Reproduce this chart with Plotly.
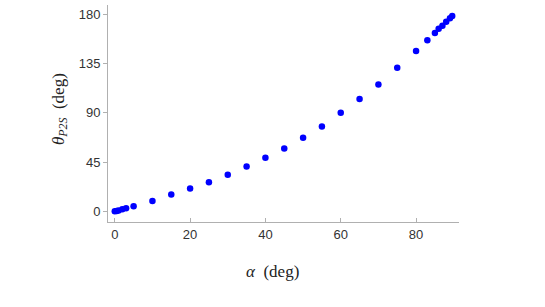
import plotly.graph_objects as go

alpha = [0, 0.5, 1, 2, 3, 5, 10, 15, 20, 25, 30, 35, 40, 45, 50, 55, 60, 65, 70, 75, 80, 83, 85, 86, 87, 88, 89, 89.6]
theta = [0, 0.3, 0.6, 1.8, 2.7, 4.6, 9.5, 15.3, 20.7, 26.5, 33.3, 40.9, 48.8, 57.4, 67.1, 77.5, 90.0, 102.5,
         115.9, 131.2, 146.4, 156.2, 162.9, 166.9, 169.6, 173.3, 176.3, 178.5]
xticks = [0, 20, 40, 60, 80]
yticks = [0, 45, 90, 135, 180]

fig = go.Figure()
fig.add_trace(go.Scatter(x=alpha, y=theta, mode="markers",
                         marker=dict(color="#0000ff", size=6.5), showlegend=False))

axis_common = dict(showgrid=False, zeroline=False, showline=True, linecolor="#b0b0b0", linewidth=1,
                   ticklen=4, tickcolor="#b0b0b0",
                   tickfont=dict(family="Liberation Sans, Arial", size=13, color="#333333"))
fig.update_xaxes(range=[-1.8, 91.4], tickvals=xticks, ticks="inside", **axis_common)
fig.update_yaxes(range=[-9.8, 188.5], tickvals=yticks, ticks="outside", **axis_common)

fig.add_annotation(text="<i>α</i>  (deg)", xref="paper", yref="paper", x=0.47, y=-0.23,
                   yanchor="middle", showarrow=False,
                   font=dict(family="Liberation Serif, Times New Roman", size=17, color="#222222"))
fig.add_annotation(text="<i>θ</i><sub><i>P2S</i></sub>  (deg)", xref="paper", yref="paper", x=-0.137, y=0.52,
                   xanchor="center", textangle=-90, showarrow=False,
                   font=dict(family="Liberation Serif, Times New Roman", size=17, color="#222222"))

fig.update_layout(width=545, height=307, margin=dict(l=108, r=86, t=5, b=85),
                  plot_bgcolor="white", paper_bgcolor="white")
fig.write_html("out.html", config={"displayModeBar": False},
               post_script="document.body.style.margin='0';")
